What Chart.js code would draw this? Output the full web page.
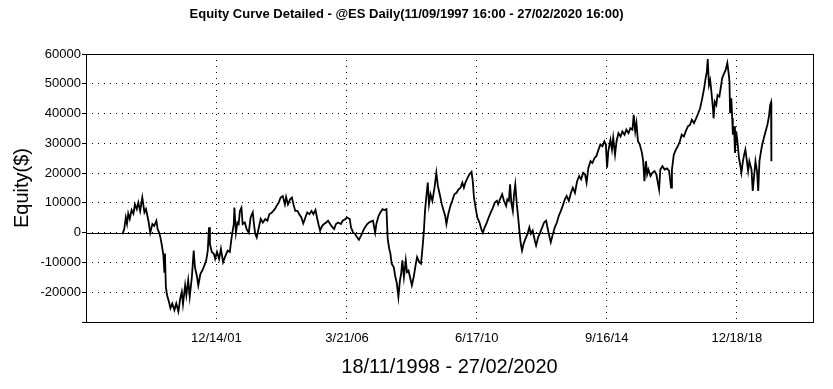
<!DOCTYPE html>
<html>
<head>
<meta charset="utf-8">
<script src="https://cdn.jsdelivr.net/npm/chart.js@4.4.1/dist/chart.umd.min.js"></script>
<style>
  html, body { margin: 0; padding: 0; background: #fff; }
</style>
</head>
<body>
<canvas id="equityChart" width="833" height="389"></canvas>
<script>
// ------------------------------------------
// DATA
// ------------------------------------------
const chartTitle = 'Equity Curve Detailed - @ES Daily(11/09/1997 16:00 - 27/02/2020 16:00)';
const xTitle = '18/11/1998 - 27/02/2020';
const yTitle = 'Equity($)';

// x positions are decimal years
const tickYears = [2001.95, 2006.22, 2010.46, 2014.71, 2018.96];
const tickLabels = ['12/14/01', '3/21/06', '6/17/10', '9/16/14', '12/18/18'];

const dates = [
  1998.88, 1998.94, 1998.99, 1999.03, 1999.07, 1999.12, 1999.18, 1999.24, 1999.29, 1999.35,
  1999.40, 1999.46, 1999.53, 1999.60, 1999.65, 1999.73, 1999.79, 1999.86, 1999.92, 1999.99,
  2000.03, 2000.08, 2000.12, 2000.17, 2000.22, 2000.25, 2000.27, 2000.30, 2000.34, 2000.40,
  2000.45, 2000.51, 2000.58, 2000.64, 2000.71, 2000.77, 2000.82, 2000.86, 2000.93, 2000.97,
  2001.03, 2001.08, 2001.15, 2001.21, 2001.25, 2001.32, 2001.36, 2001.43, 2001.49, 2001.56,
  2001.62, 2001.67, 2001.71, 2001.74, 2001.80, 2001.87, 2001.91, 2001.97, 2002.04, 2002.10,
  2002.17, 2002.23, 2002.32, 2002.39, 2002.45, 2002.52, 2002.54, 2002.59, 2002.64, 2002.68,
  2002.72, 2002.77, 2002.81, 2002.88, 2002.94, 2003.01, 2003.07, 2003.14, 2003.18, 2003.22,
  2003.27, 2003.34, 2003.40, 2003.47, 2003.55, 2003.62, 2003.68, 2003.77, 2003.86, 2003.92,
  2003.99, 2004.05, 2004.12, 2004.19, 2004.23, 2004.29, 2004.36, 2004.42, 2004.47, 2004.53,
  2004.60, 2004.66, 2004.73, 2004.79, 2004.86, 2004.92, 2004.99, 2005.06, 2005.12, 2005.19,
  2005.25, 2005.30, 2005.34, 2005.41, 2005.47, 2005.54, 2005.60, 2005.67, 2005.73, 2005.80,
  2005.86, 2005.93, 2006.02, 2006.08, 2006.17, 2006.22, 2006.31, 2006.35, 2006.42, 2006.48,
  2006.55, 2006.61, 2006.68, 2006.75, 2006.81, 2006.88, 2006.94, 2007.01, 2007.07, 2007.14,
  2007.18, 2007.25, 2007.31, 2007.38, 2007.44, 2007.51, 2007.55, 2007.60, 2007.64, 2007.68,
  2007.75, 2007.79, 2007.85, 2007.90, 2007.95, 2007.99, 2008.03, 2008.08, 2008.14, 2008.18,
  2008.23, 2008.29, 2008.34, 2008.40, 2008.47, 2008.51, 2008.58, 2008.64, 2008.68, 2008.73,
  2008.77, 2008.81, 2008.86, 2008.90, 2008.95, 2009.01, 2009.08, 2009.14, 2009.19, 2009.25,
  2009.32, 2009.38, 2009.43, 2009.47, 2009.53, 2009.60, 2009.66, 2009.73, 2009.80, 2009.86,
  2009.93, 2009.99, 2010.04, 2010.09, 2010.16, 2010.22, 2010.29, 2010.33, 2010.37, 2010.44,
  2010.48, 2010.55, 2010.61, 2010.66, 2010.72, 2010.79, 2010.85, 2010.92, 2010.99, 2011.05,
  2011.12, 2011.16, 2011.22, 2011.29, 2011.35, 2011.42, 2011.46, 2011.51, 2011.55, 2011.59,
  2011.64, 2011.68, 2011.72, 2011.77, 2011.81, 2011.86, 2011.90, 2011.94, 2011.99, 2012.05,
  2012.12, 2012.18, 2012.23, 2012.29, 2012.36, 2012.40, 2012.47, 2012.53, 2012.60, 2012.66,
  2012.73, 2012.77, 2012.84, 2012.88, 2012.95, 2013.01, 2013.08, 2013.14, 2013.21, 2013.27,
  2013.34, 2013.40, 2013.47, 2013.54, 2013.60, 2013.67, 2013.74, 2013.81, 2013.87, 2013.94,
  2014.00, 2014.05, 2014.11, 2014.18, 2014.24, 2014.31, 2014.37, 2014.44, 2014.50, 2014.57,
  2014.63, 2014.68, 2014.72, 2014.76, 2014.83, 2014.88, 2014.92, 2014.98, 2015.03, 2015.09,
  2015.16, 2015.22, 2015.29, 2015.35, 2015.42, 2015.48, 2015.55, 2015.59, 2015.64, 2015.68,
  2015.73, 2015.79, 2015.86, 2015.90, 2015.94, 2015.99, 2016.03, 2016.07, 2016.14, 2016.20,
  2016.27, 2016.33, 2016.42, 2016.46, 2016.53, 2016.60, 2016.68, 2016.75, 2016.81, 2016.84,
  2016.90, 2016.97, 2017.03, 2017.10, 2017.16, 2017.23, 2017.29, 2017.36, 2017.43, 2017.49,
  2017.56, 2017.63, 2017.70, 2017.76, 2017.83, 2017.89, 2017.94, 2017.98, 2018.01, 2018.05,
  2018.09, 2018.13, 2018.18, 2018.20, 2018.24, 2018.29, 2018.33, 2018.39, 2018.44, 2018.48,
  2018.52, 2018.59, 2018.65, 2018.70, 2018.72, 2018.74, 2018.78, 2018.81, 2018.83, 2018.87,
  2018.90, 2018.94, 2018.98, 2019.03, 2019.07, 2019.11, 2019.16, 2019.20, 2019.24, 2019.29,
  2019.33, 2019.37, 2019.44, 2019.48, 2019.53, 2019.57, 2019.62, 2019.66, 2019.70, 2019.75,
  2019.79, 2019.83, 2019.90, 2019.96, 2020.01, 2020.05, 2020.08, 2020.09
];

const equity = [
  -500, 1200, 5100, 3000, 6400, 4600, 7600, 6400, 9500, 7900,
  10100, 7300, 11800, 6800, 7900, 4000, 0, 2900, 2300, 4000,
  1200, 0, -1500, -4300, -7700, -13200, -7000, -18200, -21000, -23200,
  -25400, -23800, -26000, -23800, -26500, -22100, -19900, -24000, -17700, -21000,
  -16000, -21500, -14900, -6000, -11600, -14900, -17700, -13800, -12700, -11000,
  -9300, -6000, 1800, -3800, -6500, -7100, -8800, -6500, -8800, -5400,
  -9900, -8200, -6000, -6500, -1500, 2900, 8400, 0, 3400, 2900,
  7300, 8400, 2900, 3400, 1200, 0, 5100, 6800, 2900, -400,
  -1600, 1800, 4600, 3400, 4600, 4000, 6200, 6800, 7900, 9000,
  10100, 11800, 12300, 9500, 12000, 9500, 11200, 11800, 9500, 7300,
  7300, 6200, 5100, 3100, 5100, 6800, 6200, 7300, 6200, 7600,
  4600, 2300, 700, 2300, 2900, 3400, 4000, 2900, 2000, 1200,
  2900, 3400, 2900, 4000, 4600, 5100, 4600, 1800, 0, -400,
  -1500, -2400, -1000, 700, 1800, 2900, 3400, 3800, 4000, 0,
  2900, 5600, 6800, 7900, 7600, 7900, -2100, -5400, -7100, -10400,
  -11600, -14300, -17100, -21600, -16000, -13800, -9300, -14900, -9300, -13200,
  -12700, -15400, -17700, -14900, -10400, -8200, -9900, -10400, -6000, 0,
  7300, 11800, 16800, 9500, 12900, 10700, 15100, 20100, 15700, 12900,
  9500, 7300, 5600, 2900, 6200, 9000, 10700, 12900, 13400, 14500,
  15100, 16800, 15100, 16800, 18400, 19600, 20400, 17300, 11800, 7300,
  5100, 3400, 1200, 0, 1800, 3400, 5100, 6800, 8400, 10100,
  10700, 9500, 11200, 12900, 10700, 9000, 11200, 10700, 16200, 10100,
  7300, 12900, 16200, 9500, 5600, 0, -3800, -6000, -3800, -2100,
  -400, 1800, -400, 700, -2700, -4300, -1500, 0, 1800, 3400,
  4000, 1800, -1500, -3200, -400, 1800, 3400, 5600, 7300, 9000,
  11200, 12300, 10700, 13400, 15100, 13400, 17300, 19000, 17900, 20100,
  19600, 16800, 21800, 24000, 23400, 25100, 25700, 27900, 29600, 29000,
  30700, 29600, 21800, 27300, 31200, 27900, 31800, 26200, 30700, 33400,
  32300, 34000, 32900, 34600, 33400, 35100, 34600, 39600, 34000, 36800,
  30700, 29600, 26800, 24000, 17300, 24000, 19600, 21200, 19000, 20100,
  20700, 19600, 14500, 21200, 22300, 21200, 21600, 20700, 15100, 21200,
  26200, 27900, 29000, 30700, 32900, 32300, 34000, 35700, 36200, 37900,
  36800, 38400, 40100, 41800, 45100, 48400, 51800, 54000, 58300, 49600,
  51200, 47300, 41800, 38400, 44000, 42900, 46200, 45700, 49000, 51800,
  52900, 54500, 57000, 52900, 50700, 40100, 45100, 38400, 32900, 35700,
  26800, 34000, 30700, 25100, 22900, 20100, 24000, 26200, 27900, 24000,
  20700, 24000, 21200, 14000, 19600, 24000, 20700, 14000, 24000, 27300,
  29600, 31200, 34000, 36200, 39000, 42900, 43800, 24000
];

const xMin = 1997.69;
const xMax = 2021.45;
const yMin = -30000;
const yMax = 60000;

// ------------------------------------------
// STYLE
// ------------------------------------------
const sansFont = "'Liberation Sans', Arial, sans-serif";
const narrowFont = "'Liberation Sans Narrow', 'Arial Narrow', 'Liberation Sans', sans-serif";
const dotted = [1, 5];

// frame round the plot + solid zero line
const framePlugin = {
  id: 'frame',
  beforeDatasetsDraw(chart) {
    const { ctx, chartArea: a, scales } = chart;
    const y0 = Math.round(scales.y.getPixelForValue(0)) + 0.5;
    ctx.save();
    ctx.strokeStyle = '#000';
    ctx.lineWidth = 1;
    ctx.beginPath();
    ctx.moveTo(a.left, y0);
    ctx.lineTo(a.right, y0);
    ctx.stroke();
    ctx.restore();
  },
  afterDraw(chart) {
    const { ctx, chartArea: a } = chart;
    ctx.save();
    ctx.strokeStyle = '#000';
    ctx.lineWidth = 1;
    ctx.strokeRect(Math.round(a.left) + 0.5, Math.round(a.top) + 0.5,
      Math.round(a.right - a.left), Math.round(a.bottom - a.top));
    ctx.restore();
  }
};

const ctx = document.getElementById('equityChart').getContext('2d');

new Chart(ctx, {
  type: 'line',
  data: {
    datasets: [{
      data: dates.map((d, i) => ({ x: d, y: equity[i] })),
      borderColor: '#000',
      borderWidth: 1.8,
      pointRadius: 0,
      tension: 0,
      fill: false
    }]
  },
  options: {
    responsive: false,
    animation: false,
    devicePixelRatio: 1,
    layout: { padding: { top: 0, right: 20, bottom: 0, left: 0 } },
    plugins: {
      legend: { display: false },
      tooltip: { enabled: false },
      title: {
        display: true,
        text: chartTitle,
        color: '#000',
        font: { family: narrowFont, size: 13, weight: 'bold' },
        padding: { top: 7, bottom: 31.4 }
      }
    },
    scales: {
      x: {
        type: 'linear',
        min: xMin,
        max: xMax,
        afterBuildTicks: (scale) => {
          scale.ticks = tickYears.map(v => ({ value: v }));
        },
        afterFit: (scale) => { scale.height = 67; },
        ticks: {
          autoSkip: false,
          maxRotation: 0,
          color: '#000',
          padding: 9,
          font: { family: sansFont, size: 13 },
          callback: (value, index) => tickLabels[index]
        },
        grid: { color: '#000', lineWidth: 1, drawTicks: false },
        border: { display: false, dash: dotted },
        title: {
          display: true,
          text: xTitle,
          color: '#000',
          font: { family: sansFont, size: 20 },
          padding: { top: 0, bottom: 10 }
        }
      },
      y: {
        min: yMin,
        max: yMax,
        afterFit: (scale) => { scale.width = 86; },
        ticks: {
          stepSize: 5000,
          color: '#000',
          padding: 1,
          font: { family: sansFont, size: 13 },
          callback: (value) => (value % 10000 === 0 && value > yMin) ? String(value) : ''
        },
        grid: {
          color: (c) => (c.tick && c.tick.value % 10000 === 0) ? '#000' : 'rgba(0,0,0,0)',
          tickColor: '#000',
          tickLength: 4,
          lineWidth: 1
        },
        border: { display: false, dash: dotted },
        title: {
          display: true,
          text: yTitle,
          color: '#000',
          font: { family: sansFont, size: 20 },
          padding: { top: 10, bottom: 0 }
        }
      }
    }
  },
  plugins: [framePlugin]
});
</script>
</body>
</html>
